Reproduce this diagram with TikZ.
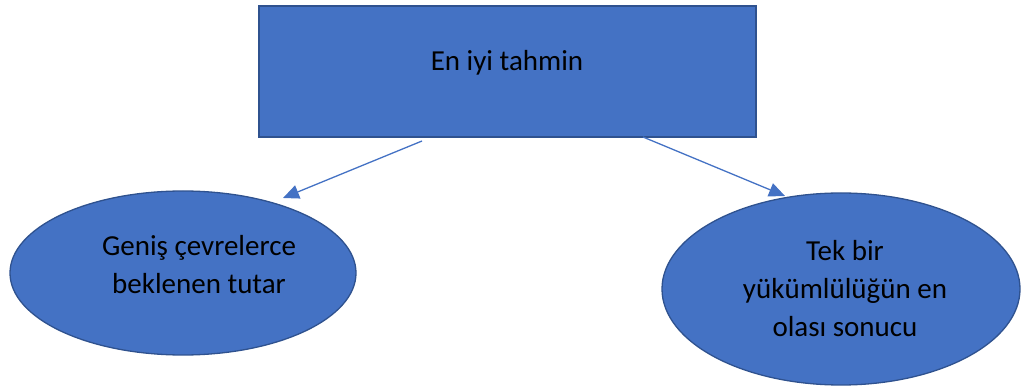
\documentclass[tikz,border=0pt]{standalone}
\usepackage{fontspec}
\setmainfont{Carlito}
\usetikzlibrary{arrows.meta,shapes.geometric}
\definecolor{boxblue}{HTML}{4472C4}
\definecolor{edgeblue}{HTML}{2F528F}
\tikzset{
  shapebox/.style={draw=edgeblue, fill=boxblue, line width=1.3pt, inner sep=0pt, outer sep=0pt},
  lbl/.style={font=\fontsize{29}{38.3}\selectfont, text=black, align=center, inner sep=0pt},
  arr/.style={draw=boxblue, line width=1.3pt, -{Triangle[length=16pt,width=14pt]}}
}
\begin{document}
\begin{tikzpicture}[x=1pt,y=1pt]
\useasboundingbox (0,0) rectangle (1022,388);
\node[shapebox, rectangle, minimum width=497pt, minimum height=131pt] (top) at (507.5,316.5) {};
\node[shapebox, ellipse, minimum width=346pt, minimum height=164pt] (left) at (183,115) {};
\node[shapebox, ellipse, minimum width=358pt, minimum height=192pt] (right) at (841,99) {};
\node[lbl, anchor=base] (toptext) at (507,317) {En iyi tahmin};
\node[lbl] (lefttext) at (199,123.5) {Geniş çevrelerce\\beklenen tutar};
\node[lbl] (righttext) at (845,99.5) {Tek bir\\yükümlülüğün en\\olası sonucu};
\draw[arr] ([xshift=-85.5pt,yshift=-4pt]top.south) -- ([shift={(100,75)}]left.center);
\draw[arr] ([xshift=135.5pt]top.south) -- ([shift={(-56,93)}]right.center);
\end{tikzpicture}
\end{document}
